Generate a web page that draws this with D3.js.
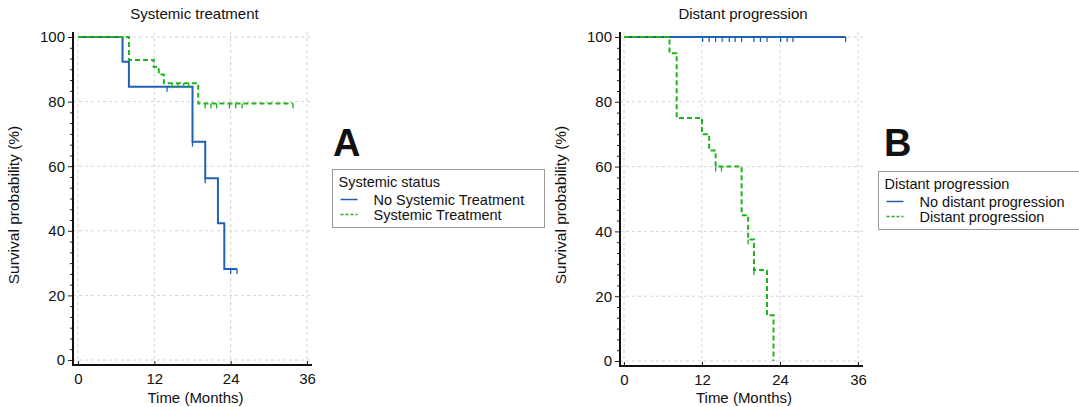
<!DOCTYPE html>
<meta charset="utf-8">
<script src="https://d3js.org/d3.v7.min.js"></script>
<style>
  body { margin: 0; background: #fff; }
  text { font-family: "Liberation Sans", Arial, sans-serif; fill: #111; }
</style>
<body>
<script>

// axis ticks shared by both panels
var monthTicks = [0, 12, 24, 36];
var survTicks = [0, 20, 40, 60, 80, 100];

// panel A : systemic treatment
var noSysTimes  = [0, 7, 8, 18, 20, 22, 23, 25];
var noSysSurv   = [100, 92.3, 84.6, 67.6, 56.3, 42.3, 28.2, 28.2];
var noSysCensor = [14, 18, 20, 24, 25];

var sysTimes  = [0, 8, 11.9, 12.7, 13.5, 18.9, 33.8];
var sysSurv   = [100, 92.9, 90.7, 88.4, 85.7, 79.4, 79.4];
var sysCensor = [14.8, 15.7, 16.6, 17.4, 20, 20.9, 21.8, 23.8, 24.8, 25.8, 33.8];

// panel B : distant progression
var noDistTimes  = [0, 34.1];
var noDistSurv   = [100, 100];
var noDistCensor = [12.1, 13.1, 14.1, 15.1, 16.2, 17.1, 18.1, 20, 21, 22, 24.1, 25.1, 26, 34.1];

var distTimes  = [0, 7, 8.1, 12, 13.1, 14.1, 18.1, 19.1, 20, 22, 23];
var distSurv   = [100, 95, 75, 70, 65, 60, 45, 37.5, 28.1, 14.1, 0];
var distCensor = [14.1, 15, 19.1, 20];

var blue = "#1f62b3",
    green = "#1fb21f";

var svg = d3.select("body").append("svg")
    .attr("width", 1079)
    .attr("height", 407);

// one Kaplan-Meier panel
function drawPanel(p) {
  var x = d3.scaleLinear().domain([0, 36]).range([p.x0, p.x1]);
  var y = d3.scaleLinear().domain([0, 100]).range([p.y0, p.y100]);
  var g = svg.append("g");

  // dashed grid
  g.selectAll(".vg").data(monthTicks).enter().append("line")
      .attr("x1", function(d) { return x(d); }).attr("x2", function(d) { return x(d); })
      .attr("y1", p.top).attr("y2", p.axisY)
      .style("stroke", "#d4d4d4").style("stroke-dasharray", "3,3");
  g.selectAll(".hg").data(survTicks).enter().append("line")
      .attr("x1", p.axisX).attr("x2", p.right)
      .attr("y1", function(d) { return y(d); }).attr("y2", function(d) { return y(d); })
      .style("stroke", "#d4d4d4").style("stroke-dasharray", "3,3");

  // y axis, majors + minors
  var minor = d3.range(0, 100, 20 / 6).filter(function(v) { return Math.abs(v / 20 - Math.round(v / 20)) > 0.01; });
  var ya = g.append("g").attr("transform", "translate(" + p.axisX + ",0)")
      .call(d3.axisLeft(y).tickValues(survTicks).tickSize(5).tickSizeOuter(0).tickPadding(3));
  var ym = g.append("g").attr("transform", "translate(" + p.axisX + ",0)")
      .call(d3.axisLeft(y).tickValues(minor).tickSize(3).tickFormat(""));
  ya.select(".domain").remove();
  ym.select(".domain").remove();

  var xa = g.append("g").attr("transform", "translate(0," + p.axisY + ")")
      .call(d3.axisBottom(x).tickValues(monthTicks).tickSize(-4).tickSizeOuter(0).tickPadding(8));
  xa.select(".domain").remove();

  svg.selectAll("g.tick text").style("font-size", "15px").style("font-family", "Liberation Sans, Arial, sans-serif").attr("fill", "#111");
  svg.selectAll("g.tick line").attr("stroke", "#222");

  g.append("path")
      .attr("d", "M" + p.axisX + "," + p.top + "V" + p.axisY + "H" + p.right)
      .style("fill", "none").style("stroke", "#111").style("stroke-width", 2);

  // survival curves
  var line = d3.line()
      .x(function(d) { return x(d[0]); })
      .y(function(d) { return y(d[1]); })
      .curve(d3.curveStepAfter);

  p.series.forEach(function(s) {
    var pts = d3.zip(s.times, s.surv);
    g.append("path").datum(pts)
        .attr("d", line)
        .style("fill", "none").style("stroke", s.color).style("stroke-width", 2)
        .style("stroke-dasharray", s.dash);

    // censor marks
    g.selectAll(null).data(s.censor).enter().append("line")
        .attr("x1", function(t) { return x(t); }).attr("x2", function(t) { return x(t); })
        .attr("y1", function(t) { return y(survAt(s, t)); })
        .attr("y2", function(t) { return y(survAt(s, t)) + 5; })
        .style("stroke", s.color).style("stroke-width", 1.3);
  });

  // titles
  g.append("text").attr("x", (p.x0 + p.x1) / 2 + 2).attr("y", 19)
      .attr("text-anchor", "middle").style("font-size", "15px").text(p.title);
  g.append("text").attr("x", (p.x0 + p.x1) / 2 + 3).attr("y", 403)
      .attr("text-anchor", "middle").style("font-size", "15px").text("Time (Months)");
  g.append("text").attr("transform", "translate(" + p.ylabX + ",205) rotate(-90)")
      .attr("text-anchor", "middle").style("font-size", "15.5px").text("Survival probability (%)");

  // panel letter
  g.append("text").attr("x", p.letterX).attr("y", 156)
      .style("font-size", "38px").style("font-weight", "bold").text(p.letter);

  // legend
  var lg = g.append("g").attr("transform", "translate(" + p.legX + "," + p.legY + ")");
  lg.append("rect").attr("width", p.legW).attr("height", 58)
      .style("fill", "#fff").style("stroke", "#999").style("stroke-width", 1);
  lg.append("text").attr("x", 6).attr("y", 17).style("font-size", "14.5px").text(p.legTitle);
  p.series.forEach(function(s, i) {
    var yy = 30 + i * 15;
    lg.append("line").attr("x1", 8).attr("x2", 25).attr("y1", yy).attr("y2", yy)
        .style("stroke", s.color).style("stroke-width", 1.5)
        .style("stroke-dasharray", s.dash ? "3,2" : null);
    lg.append("text").attr("x", 41).attr("y", yy + 5).style("font-size", "14.5px").text(s.name);
  });
}

function survAt(s, t) {
  var v = s.surv[0];
  for (var i = 0; i < s.times.length; i++) {
    if (s.times[i] <= t + 1e-9) v = s.surv[i];
  }
  return v;
}

drawPanel({
  x0: 78, x1: 307, y0: 360, y100: 37, axisX: 73, axisY: 365, top: 32, right: 312,
  title: "Systemic treatment", ylabX: 19, letter: "A", letterX: 333,
  legX: 332.5, legY: 169.5, legW: 212, legTitle: "Systemic status",
  series: [
    { name: "No Systemic Treatment", times: noSysTimes, surv: noSysSurv, censor: noSysCensor, color: blue, dash: null },
    { name: "Systemic Treatment", times: sysTimes, surv: sysSurv, censor: sysCensor, color: green, dash: "5,3" }
  ]
});

drawPanel({
  x0: 624, x1: 858, y0: 361, y100: 37, axisX: 620, axisY: 366, top: 32, right: 863,
  title: "Distant progression", ylabX: 566, letter: "B", letterX: 884,
  legX: 878.5, legY: 171.5, legW: 210, legTitle: "Distant progression",
  series: [
    { name: "No distant progression", times: noDistTimes, surv: noDistSurv, censor: noDistCensor, color: blue, dash: null },
    { name: "Distant progression", times: distTimes, surv: distSurv, censor: distCensor, color: green, dash: "5,3" }
  ]
});

</script>
</body>
